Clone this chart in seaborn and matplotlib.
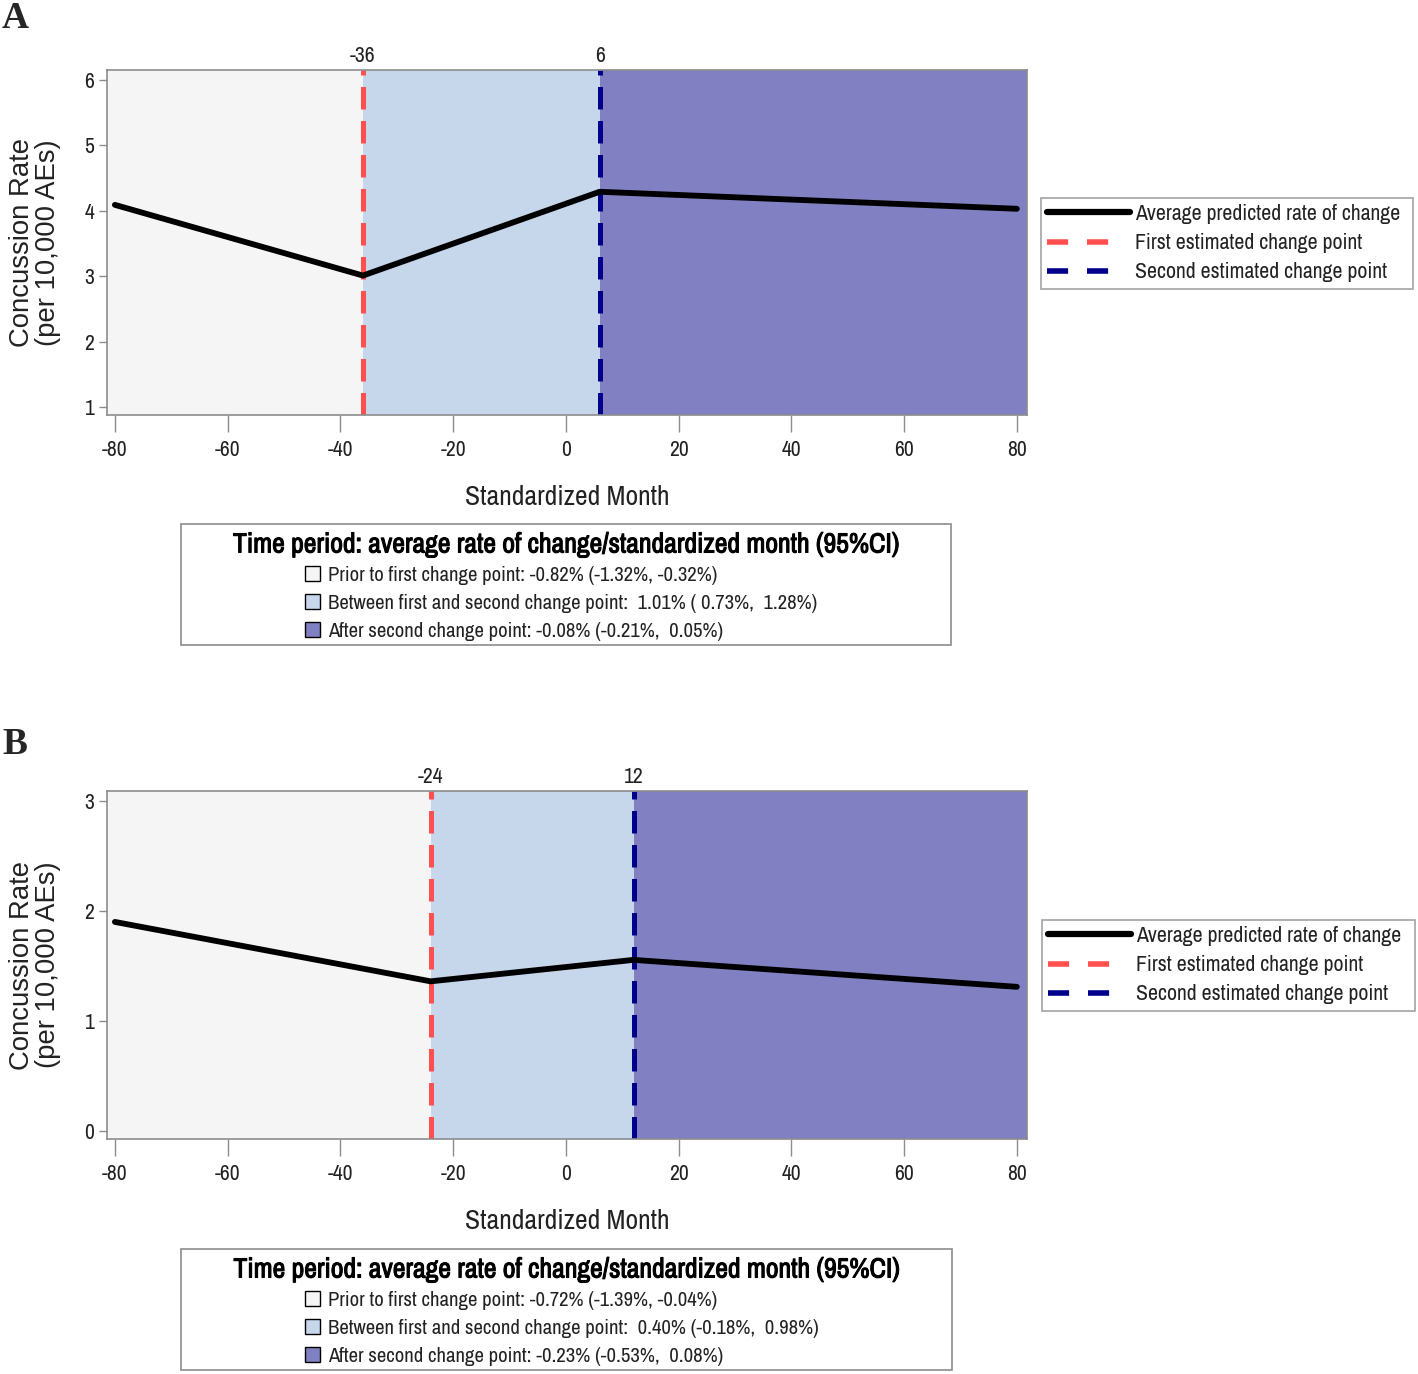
import matplotlib
matplotlib.use("Agg")
import matplotlib.pyplot as plt
import matplotlib.patheffects as pe
import seaborn as sns
import pandas as pd
from matplotlib.lines import Line2D
from matplotlib.patches import Patch, Rectangle
from matplotlib import font_manager

# ---------------- data ----------------
months_a = [-80, -36, 6, 80]
rate_a = [4.09, 3.01, 4.29, 4.03]
change_points_a = [-36, 6]
yticks_a = [1, 2, 3, 4, 5, 6]
period_a = [
    "Prior to first change point: -0.82% (-1.32%, -0.32%)",
    "Between first and second change point:  1.01% ( 0.73%,  1.28%)",
    "After second change point: -0.08% (-0.21%,  0.05%)",
]

months_b = [-80, -24, 12, 80]
rate_b = [1.90, 1.36, 1.555, 1.31]
change_points_b = [-24, 12]
yticks_b = [0, 1, 2, 3]
period_b = [
    "Prior to first change point: -0.72% (-1.39%, -0.04%)",
    "Between first and second change point:  0.40% (-0.18%,  0.98%)",
    "After second change point: -0.23% (-0.53%,  0.08%)",
]

xticks = [-80, -60, -40, -20, 0, 20, 40, 60, 80]
legend_labels = ["Average predicted rate of change", "First estimated change point",
                 "Second estimated change point"]
box_title = "Time period: average rate of change/standardized month (95%CI)"

# ---------------- style ----------------
sns.set_theme(style="ticks")
entries = font_manager.fontManager.ttflist
narrow_name = None
for f in entries:
    if "Narrow" in f.name:
        narrow_name = f.name
        break
stretch = "normal"
if narrow_name is None:
    for f in entries:
        if "Condensed" in f.name:
            narrow_name = f.name
            break
if narrow_name is None:
    for f in entries:
        if f.stretch in ("condensed", "semi-condensed") and "Sans" in f.name and "Mono" not in f.name:
            narrow_name = f.name
            stretch = "condensed"
            break
if narrow_name is None:
    narrow_name = "Liberation Sans"
plt.rcParams["font.family"] = [narrow_name, "DejaVu Sans"]
plt.rcParams["font.stretch"] = stretch
plt.rcParams["axes.unicode_minus"] = False

C_PRE = "#f5f5f5"
C_MID = "#c6d7ec"
C_POST = "#8080c2"
C_RED = "#ff4f4f"
C_NAVY = "#00008b"
C_SPINE = "#8c8c8c"
C_TEXT = "#222222"

fig = plt.figure(figsize=(14.18, 13.74), dpi=100)
renderer = fig.canvas.get_renderer()

W, H = 1418, 1374
PX_PER_PT = 100 / 72


def fx(px):
    return px / W


def fy(py):
    return 1 - py / H


def fit_width(texts, width_px, ref_idx=0, use_height=False):
    ext = texts[ref_idx].get_window_extent(renderer)
    cur = ext.height if use_height else ext.width
    size = texts[ref_idx].get_fontsize() * width_px / cur
    for t in texts:
        t.set_fontsize(size)
    return size


def size_for(label, width_px, base=15):
    t = fig.text(0, 0, label, fontsize=base)
    s = fit_width([t], width_px)
    t.remove()
    return s


leg_size = size_for(legend_labels[0], 266)
per_size = size_for(period_a[1], 488)


def panel(top, bottom, months, rate, cps, yticks, ylim, periods, leg_box, rate_box, letter, letter_y):
    ax = fig.add_axes([fx(107), fy(bottom), fx(1027) - fx(107), fy(top) - fy(bottom)])
    xlim = (-81.4, 81.8)
    ax.set_xlim(*xlim)
    ax.set_ylim(*ylim)
    ax.axvspan(xlim[0], cps[0], color=C_PRE, lw=0, zorder=0)
    ax.axvspan(cps[0], cps[1], color=C_MID, lw=0, zorder=0)
    ax.axvspan(cps[1], xlim[1], color=C_POST, lw=0, zorder=0)
    ax.axvline(cps[0], color=C_RED, lw=3.6, dashes=(4.5, 2.3), zorder=2)
    ax.axvline(cps[1], color=C_NAVY, lw=3.6, dashes=(4.5, 2.3), zorder=2)
    df = pd.DataFrame({"month": months, "rate": rate})
    sns.lineplot(data=df, x="month", y="rate", ax=ax, color="black", lw=4.2, zorder=3)

    ax.set_xticks(xticks)
    ax.set_yticks(yticks)
    ax.tick_params(axis="x", length=12, width=1, color=C_SPINE, labelsize=15.5, pad=6,
                   labelcolor=C_TEXT)
    ax.tick_params(axis="y", length=6, width=1, color=C_SPINE, labelsize=15.5, pad=3,
                   labelcolor=C_TEXT)
    for s in ax.spines.values():
        s.set_color(C_SPINE)
        s.set_linewidth(1.2)
    xl = ax.set_xlabel("Standardized Month", fontsize=18, labelpad=18, color=C_TEXT)
    fit_width([xl], 204)
    yl = ax.set_ylabel("Concussion Rate\n(per 10,000 AEs)", fontsize=17,
                       family=["Liberation Sans", "DejaVu Sans"], stretch="normal",
                       labelpad=17, linespacing=1.0, color=C_TEXT)
    fit_width([yl], 210, use_height=True)

    top_ax = ax.secondary_xaxis("top")
    top_ax.set_xticks(cps)
    top_ax.set_xticklabels([str(c) for c in cps])
    top_ax.tick_params(length=0, labelsize=15.5, pad=3, labelcolor=C_TEXT)
    for s in top_ax.spines.values():
        s.set_visible(False)

    handles = [Line2D([], [], color="black", lw=4.5),
               Line2D([], [], color=C_RED, lw=4, dashes=(3.8, 3.4, 3.8, 5.6)),
               Line2D([], [], color=C_NAVY, lw=4, dashes=(3.8, 3.4, 3.8, 5.6))]
    x0, y0, x1, y1 = leg_box
    fs_px = leg_size * PX_PER_PT
    leg = fig.legend(handles, legend_labels, loc="upper left",
                     bbox_to_anchor=(fx(x0), fy(y1), fx(x1) - fx(x0), fy(y0) - fy(y1)),
                     mode="expand", fontsize=leg_size, frameon=True, fancybox=False,
                     edgecolor=C_SPINE, handlelength=83 / fs_px, handletextpad=5 / fs_px,
                     labelspacing=0.42, borderpad=0.28, borderaxespad=0, labelcolor=C_TEXT)
    leg.get_frame().set_linewidth(1.2)

    bx0, by0, bx1, by1 = rate_box
    fig.patches.append(Rectangle((fx(bx0), fy(by1)), fx(bx1) - fx(bx0), fy(by0) - fy(by1),
                                 transform=fig.transFigure, fill=False, edgecolor=C_SPINE, lw=1.2))
    tt = fig.text(fx((bx0 + bx1) / 2), fy(by0 + 21), box_title, ha="center", va="center",
                  fontsize=17.5, fontweight="bold", color="black",
                  path_effects=[pe.withStroke(linewidth=0.75, foreground="black")])
    fit_width([tt], 668)
    pfs_px = per_size * PX_PER_PT
    phandles = [Patch(facecolor=c, edgecolor="black", lw=1) for c in (C_PRE, C_MID, C_POST)]
    fig.legend(phandles, periods, loc="upper left",
               bbox_to_anchor=(fx(bx0 + 124), fy(by0 + 42)), fontsize=per_size, frameon=False,
               handlelength=15 / pfs_px, handleheight=15 / pfs_px, handletextpad=8 / pfs_px,
               labelspacing=0.43, borderpad=0, borderaxespad=0, labelcolor=C_TEXT)

    fig.text(fx(2), fy(letter_y), letter, fontsize=27, fontweight="bold",
             family="Liberation Serif", stretch="normal", ha="left", va="center")
    return ax


panel(70, 415, months_a, rate_a, change_points_a, yticks_a, (0.88, 6.15), period_a,
      (1041, 198, 1413, 288), (181, 524, 951, 645), "A", 18)
panel(791, 1139, months_b, rate_b, change_points_b, yticks_b, (-0.073, 3.09), period_b,
      (1042, 920, 1415, 1010), (181, 1249, 952, 1370), "B", 744)

fig.savefig("out.png", dpi=100, facecolor="white")
